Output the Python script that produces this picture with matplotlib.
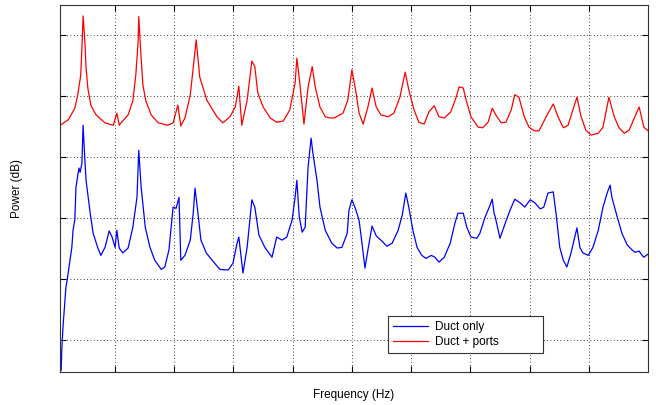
import numpy as np
import matplotlib
matplotlib.use("Agg")
import matplotlib.pyplot as plt

plt.rcParams['font.family'] = ['Liberation Sans', 'DejaVu Sans']

# Duct + ports (red) : frequency in Hz, power in dB
freq_ports = [7, 21, 32, 37, 42, 44, 46, 49, 51, 54, 59, 68, 83, 97, 103, 107, 110,
              122, 130, 135, 139, 140, 144, 147, 152, 161, 173, 189, 198, 206, 211,
              218, 227, 232, 237, 243, 255, 272, 282, 294, 303, 309, 314, 323, 331,
              336, 341, 350, 362, 373, 384, 395, 404, 407, 412, 419, 426, 433, 438,
              446, 455, 463, 470, 485, 493, 500, 507, 512, 519, 527, 534, 541, 549,
              561, 571, 581, 590, 596, 605, 613, 622, 630, 639, 647, 656, 667, 676,
              681, 688, 693, 701, 713, 721, 730, 737, 743, 752, 760, 769, 775, 782,
              791, 799, 808, 816, 828, 840, 848, 857, 865, 873, 880, 887, 895, 904,
              916, 924, 934, 943, 951, 960, 968, 985, 993, 1000]
power_ports = [-14.8, -13.9, -12.0, -9.8, -6.6, -2.1, 3.1, -1.0, -5.4, -8.7, -11.5,
               -13.1, -14.4, -14.8, -12.8, -14.8, -14.4, -13.1, -10.8, -6.6, -1.0,
               3.0, -3.8, -8.2, -10.8, -13.1, -14.4, -14.8, -14.4, -11.5, -14.9,
               -13.6, -9.8, -5.4, -0.8, -6.9, -10.7, -13.4, -14.4, -13.4, -11.8,
               -8.4, -14.8, -10.7, -4.3, -5.2, -9.5, -11.8, -13.6, -14.3, -14.1,
               -12.3, -7.9, -3.8, -7.9, -14.6, -8.5, -5.2, -8.5, -11.8, -13.4,
               -13.6, -13.6, -12.8, -10.7, -5.7, -9.5, -12.8, -14.6, -11.8, -8.7,
               -11.8, -13.1, -13.4, -12.8, -10.2, -6.1, -9.0, -12.3, -14.3, -14.6,
               -12.6, -11.6, -13.4, -13.6, -12.6, -10.2, -8.5, -8.7, -10.7, -13.4,
               -15.1, -15.2, -14.3, -12.0, -13.1, -14.4, -14.3, -12.3, -9.8, -10.2,
               -13.4, -15.1, -15.7, -15.7, -13.4, -11.3, -13.4, -15.2, -14.8, -12.3,
               -10.2, -13.4, -15.6, -16.4, -16.1, -15.1, -10.2, -13.4, -15.2, -16.1,
               -15.6, -11.8, -15.1, -15.7]

# Duct only (blue)
freq_duct = [7, 9, 10, 12, 17, 19, 24, 27, 29, 32, 34, 39, 41, 44, 46, 49, 51, 58,
             63, 71, 76, 83, 90, 95, 100, 103, 107, 113, 122, 130, 137, 140, 144,
             151, 159, 167, 178, 184, 191, 198, 203, 208, 211, 218, 227, 232, 235,
             240, 245, 254, 264, 277, 291, 299, 306, 309, 316, 323, 331, 336, 343,
             353, 365, 373, 382, 390, 399, 404, 407, 411, 416, 421, 426, 431, 434,
             441, 446, 455, 466, 475, 483, 492, 495, 500, 505, 512, 517, 522, 527,
             534, 541, 551, 559, 568, 578, 585, 591, 596, 603, 610, 618, 625, 634,
             640, 647, 656, 666, 674, 679, 688, 694, 701, 711, 716, 725, 732, 737,
             740, 742, 750, 759, 767, 775, 784, 792, 801, 809, 818, 824, 831, 840,
             845, 851, 857, 863, 870, 880, 885, 890, 899, 907, 916, 924, 931, 936,
             939, 948, 956, 965, 973, 978, 985, 990, 993, 1000]
power_duct = [-55.2, -54.9, -51.6, -47.9, -41.3, -40.2, -36.9, -34.8, -32.0, -30.3,
              -24.9, -21.8, -22.5, -21.0, -14.8, -20.5, -23.8, -29.2, -32.5, -34.9,
              -36.1, -34.8, -32.1, -33.1, -34.8, -32.0, -34.9, -35.7, -34.9, -31.5,
              -26.6, -18.9, -24.9, -31.5, -34.8, -36.9, -38.4, -38.0, -35.2, -28.2,
              -28.4, -26.6, -36.9, -36.1, -33.6, -29.2, -25.1, -29.2, -33.6, -35.7,
              -36.9, -38.4, -38.5, -37.4, -34.1, -33.1, -39.0, -34.8, -27.0, -28.2,
              -32.8, -34.8, -36.4, -33.1, -33.6, -33.1, -30.3, -26.6, -23.8, -29.8,
              -32.3, -31.5, -21.6, -16.9, -19.3, -23.8, -28.2, -32.0, -34.1, -34.9,
              -34.8, -32.5, -28.7, -27.0, -28.2, -30.3, -34.1, -38.2, -35.2, -31.3,
              -32.9, -33.8, -34.6, -34.1, -32.0, -29.5, -25.9, -28.2, -32.0, -34.8,
              -36.1, -36.6, -36.1, -36.4, -37.2, -36.4, -34.1, -30.8, -29.2, -29.2,
              -31.5, -33.1, -33.3, -32.5, -29.8, -28.2, -26.9, -29.2, -29.8, -33.3,
              -30.8, -28.7, -26.9, -27.5, -28.2, -27.0, -27.5, -28.5, -28.2, -25.9,
              -25.7, -29.5, -34.8, -36.9, -38.0, -35.7, -31.6, -34.8, -35.7, -36.1,
              -34.8, -32.0, -28.2, -25.9, -24.6, -26.6, -29.8, -32.5, -34.4, -35.2,
              -35.6, -35.4, -36.1, -36.4, -35.9]

x_ticks = [100, 200, 300, 400, 500, 600, 700, 800, 900]
y_ticks = [-50, -40, -30, -20, -10, 0]

fig = plt.figure(figsize=(6.56, 4.05), dpi=100)
ax = fig.add_axes([60 / 656, 33 / 405, 588 / 656, 367 / 405])

ax.plot(freq_duct, power_duct, color='#0000ff', lw=0.9, label='Duct only')
ax.plot(freq_ports, power_ports, color='#ff0000', lw=0.9, label='Duct + ports')

ax.set_xlim(7, 1000)
ax.set_ylim(-55.2, 4.9)
ax.set_xticks(x_ticks)
ax.set_yticks(y_ticks)
ax.tick_params(direction='in', length=4, width=0.8, top=True, right=True,
               labelbottom=False, labelleft=False)
ax.grid(True, linestyle=(0, (1, 3)), color='black', lw=0.6)
for s in ax.spines.values():
    s.set_color('#333333')
    s.set_linewidth(0.8)

ax.set_xlabel('Frequency (Hz)', fontsize=8.5)
ax.set_ylabel('Power (dB)', fontsize=8.5)
ax.xaxis.set_label_coords(0.5, -0.046)
ax.yaxis.set_label_coords(-0.063, 0.5)

# legend box is wider than its text, like the matlab one
leg = ax.legend(loc='lower left', bbox_to_anchor=(0.558, 0.052, 0.2636, 0.098),
                mode='expand', borderaxespad=0, fontsize=8.5, fancybox=False,
                framealpha=1, handlelength=3.0, borderpad=0.4, labelspacing=0.3,
                handletextpad=0.6)
leg.get_frame().set_edgecolor('#333333')
leg.get_frame().set_linewidth(0.8)

fig.savefig('out.png', dpi=100)
